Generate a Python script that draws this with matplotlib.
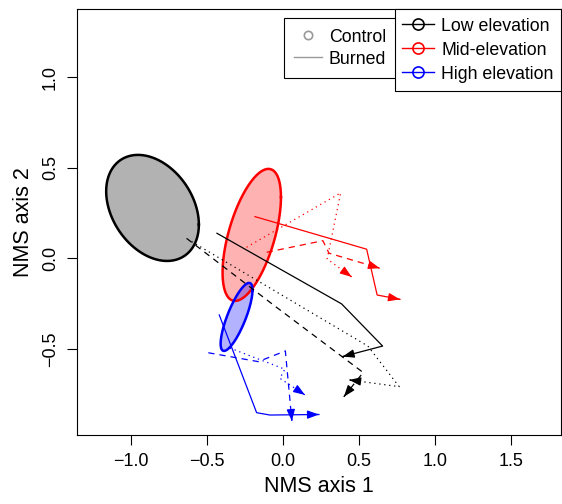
import numpy as np
import matplotlib
matplotlib.use('Agg')
import matplotlib.pyplot as plt
from matplotlib.lines import Line2D

plt.rcParams['font.family'] = ['Liberation Sans', 'DejaVu Sans']

# Ellipses (control plots): center and covariance-like shape in NMS space
ell_colors = ['black', 'red', 'blue']
ell_center_x = [-0.86, -0.207, -0.307]
ell_center_y = [0.278, 0.129, -0.324]
ell_sxx = [0.093, 0.0369, 0.011]
ell_syy = [0.0858, 0.133, 0.0353]
ell_sxy = [-0.028, 0.040, 0.0155]

# Burned trajectories (solid, dashed, dotted) for each elevation
low_solid_x = [-0.436, 0.384, 0.654, 0.391]
low_solid_y = [0.138, -0.252, -0.485, -0.543]
low_dash_x = [-0.636, -0.055, 0.526, 0.399]
low_dash_y = [0.110, -0.264, -0.631, -0.765]
low_dot_x = [-0.603, 0.557, 0.763, 0.434]
low_dot_y = [0.092, -0.485, -0.709, -0.672]

mid_solid_x = [-0.186, 0.549, 0.618, 0.768]
mid_solid_y = [0.230, 0.050, -0.203, -0.227]
mid_dash_x = [-0.109, 0.261, 0.301, 0.636]
mid_dash_y = [0.033, 0.097, 0.028, -0.055]
mid_dot_x = [-0.241, 0.378, 0.289, 0.450]
mid_dot_y = [0.061, 0.361, -0.004, -0.103]

high_solid_x = [-0.421, -0.175, -0.0875, 0.235]
high_solid_y = [-0.313, -0.853, -0.866, -0.863]
high_dash_x = [-0.493, -0.164, 0.014, 0.057]
high_dash_y = [-0.522, -0.571, -0.512, -0.899]
high_dot_x = [-0.351, 0.011, -0.022, 0.143]
high_dot_y = [-0.496, -0.613, -0.663, -0.755]

trajectories = [
    ('black', '-', low_solid_x, low_solid_y),
    ('black', (0, (5, 4)), low_dash_x, low_dash_y),
    ('black', (0, (1, 3)), low_dot_x, low_dot_y),
    ('red', '-', mid_solid_x, mid_solid_y),
    ('red', (0, (5, 4)), mid_dash_x, mid_dash_y),
    ('red', (0, (1, 3)), mid_dot_x, mid_dot_y),
    ('blue', '-', high_solid_x, high_solid_y),
    ('blue', (0, (5, 4)), high_dash_x, high_dash_y),
    ('blue', (0, (1, 3)), high_dot_x, high_dot_y),
]

elev_labels = ['Low elevation', 'Mid-elevation', 'High elevation']

fig = plt.figure(figsize=(5.62, 5.04), dpi=100)
ax = fig.add_axes([0.137, 0.137, 0.861, 0.8445])

# ellipses
t = np.linspace(0, 2 * np.pi, 200)
for i in range(3):
    S = np.array([[ell_sxx[i], ell_sxy[i]], [ell_sxy[i], ell_syy[i]]])
    L = np.linalg.cholesky(S)
    pts = L @ np.vstack([np.cos(t), np.sin(t)])
    ex = ell_center_x[i] + pts[0]
    ey = ell_center_y[i] + pts[1]
    ax.fill(ex, ey, facecolor=ell_colors[i], alpha=0.3, edgecolor='none', zorder=1)
    ax.plot(ex, ey, color=ell_colors[i], lw=1.8, zorder=2)

# trajectories with arrow heads
for col, ls, xs, ys in trajectories:
    ax.plot(xs, ys, color=col, linestyle=ls, lw=0.9, zorder=3)
    x0, y0 = xs[-2], ys[-2]
    x1, y1 = xs[-1], ys[-1]
    ax.annotate('', xy=(x1, y1),
                xytext=(x1 - 0.02 * (x1 - x0), y1 - 0.02 * (y1 - y0)),
                arrowprops=dict(arrowstyle='-|>,head_length=0.55,head_width=0.2',
                                color=col, lw=0.9, shrinkA=0, shrinkB=0,
                                mutation_scale=12.5),
                zorder=4)

ax.set_xlim(-1.357, 1.827)
ax.set_ylim(-0.976, 1.375)
ax.set_xticks([-1.0, -0.5, 0.0, 0.5, 1.0, 1.5])
ax.set_xticklabels(['\u22121.0', '\u22120.5', '0.0', '0.5', '1.0', '1.5'])
ax.set_yticks([-0.5, 0.0, 0.5, 1.0])
ax.set_yticklabels(['\u22120.5', '0.0', '0.5', '1.0'], rotation=90, va='center')
ax.tick_params(length=7, width=0.8, labelsize=13, pad=6)
for s in ax.spines.values():
    s.set_linewidth(0.8)
ax.set_xlabel('NMS axis 1', fontsize=15.5, labelpad=4)
ax.set_ylabel('NMS axis 2', fontsize=15.5, labelpad=6)

# legends
h1 = [Line2D([], [], color='#999999', marker='o', mfc='none', linestyle='none',
             markersize=6, markeredgewidth=1.2),
      Line2D([], [], color='#999999', lw=1)]
leg1 = ax.legend(h1, ['Control', 'Burned'], loc='upper right',
                 bbox_to_anchor=(0.659, 0.980), fontsize=12.8, fancybox=False,
                 edgecolor='black', framealpha=1, borderaxespad=0,
                 handlelength=1.6, handleheight=1.1, labelspacing=0.2,
                 borderpad=0.55, handletextpad=0.37)
leg1.get_frame().set_linewidth(0.8)
ax.add_artist(leg1)

h2 = [Line2D([], [], color=c, marker='o', mfc='none', lw=1, markersize=8,
             markeredgewidth=1.2) for c in ell_colors]
leg2 = ax.legend(h2, elev_labels, loc='upper right', bbox_to_anchor=(1.0, 1.0),
                 fontsize=12.8, fancybox=False, edgecolor='black', framealpha=1,
                 borderaxespad=0, handlelength=1.75, handleheight=1.1,
                 labelspacing=0.3, borderpad=0.42, handletextpad=0.42)
leg2.get_frame().set_linewidth(0.8)

plt.savefig('out.png', dpi=100)
